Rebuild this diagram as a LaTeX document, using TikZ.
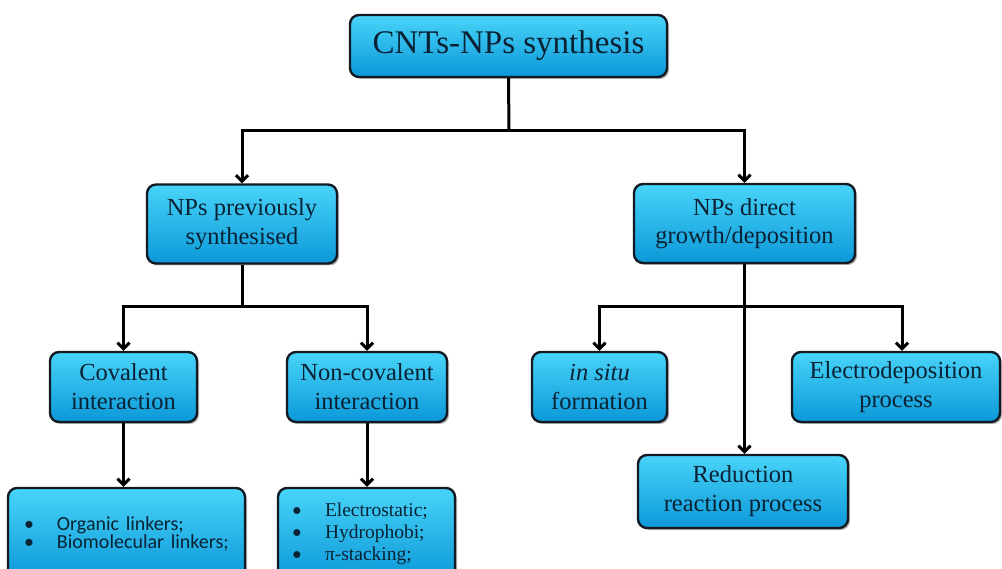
\documentclass[tikz,border=0pt]{standalone}
\usepackage{fontspec}
\setmainfont{Liberation Serif}
\newfontfamily\bxfont{Liberation Serif}
\newfontfamily\sansbx{Carlito}
\usetikzlibrary{arrows.meta,shadows}
\definecolor{boxtop}{HTML}{48D4F8}
\definecolor{boxbot}{HTML}{0C98D8}
\definecolor{boxline}{HTML}{141A24}
\definecolor{txt}{HTML}{0A2234}
\tikzset{
  cbox/.style={rectangle, rounded corners=9pt, draw=boxline, line width=2.4pt,
    top color=boxtop, bottom color=boxbot, text=txt, inner sep=0pt, align=center,
    drop shadow={shadow xshift=2pt, shadow yshift=-2pt, fill=black, opacity=0.3}},
  conn/.style={line width=3pt, black},
  arr/.style={conn, -{Straight Barb[length=6pt,width=12pt]}}
}
\begin{document}
\begin{tikzpicture}[x=1pt,y=-1pt]
\useasboundingbox (0,0) rectangle (1002,569);
\clip (0,0) rectangle (1002,569);
\fill[white] (0,0) rectangle (1002,569);
% nodes
\node[cbox, minimum width=317pt, minimum height=62pt, font=\bxfont\fontsize{33}{36}\selectfont] (top) at (508.5,46) {CNTs-NPs synthesis};
\node[cbox, minimum width=190pt, minimum height=79pt, font=\bxfont\fontsize{24.5}{28.5}\selectfont] (left) at (242,224) {NPs previously\\synthesised};
\node[cbox, minimum width=221pt, minimum height=79pt, font=\bxfont\fontsize{24.5}{28.5}\selectfont] (right) at (744.5,223.5) {NPs direct\\growth/deposition};
\node[cbox, minimum width=147pt, minimum height=70pt, font=\bxfont\fontsize{24.5}{29}\selectfont] (cov) at (123.5,387) {Covalent\\interaction};
\node[cbox, minimum width=160pt, minimum height=70pt, font=\bxfont\fontsize{24.5}{29}\selectfont] (ncov) at (367,387) {Non-covalent\\interaction};
\node[cbox, minimum width=135pt, minimum height=70pt, font=\bxfont\fontsize{24.5}{29}\selectfont] (insitu) at (599.5,387) {{\itshape in situ}\\formation};
\node[cbox, minimum width=208pt, minimum height=70pt, font=\bxfont\fontsize{24.5}{29}\selectfont] (electro) at (896,387) {Electrodeposition\\process};
\node[cbox, minimum width=210pt, minimum height=73pt, font=\bxfont\fontsize{24.5}{29}\selectfont] (red) at (743,491.5) {Reduction\\reaction process};
\node[cbox, minimum width=237pt, minimum height=92pt, text width=205pt, align=left, inner xsep=16pt, font=\sansbx\fontsize{20}{18.5}\selectfont] (lnk) at (126.5,534)
  {\makebox[33pt][l]{•}Organic linkers;\\\makebox[33pt][l]{•}Biomolecular linkers;};
\node[cbox, minimum width=177pt, minimum height=92pt, text width=149pt, align=left, inner xsep=14pt, font=\bxfont\fontsize{19.5}{22}\selectfont] (inter) at (366.5,534)
  {\makebox[33pt][l]{\sansbx •}Electrostatic;\\\makebox[33pt][l]{\sansbx •}Hydrophobi;\\\makebox[33pt][l]{\sansbx •}π-stacking;};
% junctions
\coordinate (j0) at (509,131);
\coordinate (j1) at (242,307);
\coordinate (j2) at (744,307);
% connectors
\draw[conn] (top.south) -- (j0);
\draw[arr] (j0) -| (left.north);
\draw[arr] (j0) -| (right.north);
\draw[conn] (left.south) -- (j1);
\draw[arr] (j1) -| (cov.north);
\draw[arr] (j1) -| (ncov.north);
\draw[arr] (right.south) -- (right.south |- red.north);
\draw[arr] (j2) -| (insitu.north);
\draw[arr] (j2) -| ([xshift=6pt]electro.north);
\draw[arr] (cov.south) -- (cov.south |- lnk.north);
\draw[arr] (ncov.south) -- (ncov.south |- inter.north);
\end{tikzpicture}
\end{document}
